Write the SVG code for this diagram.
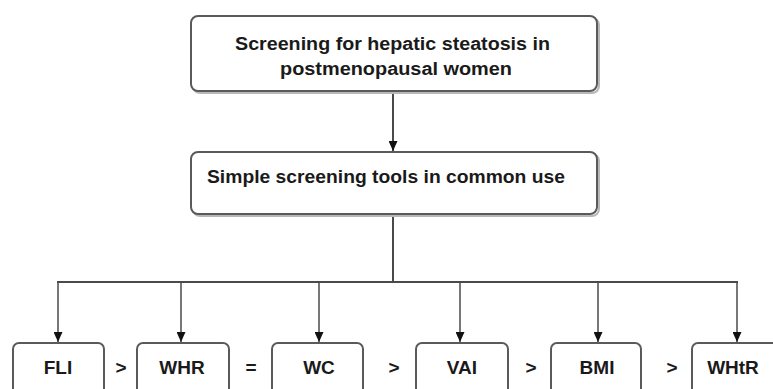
<svg xmlns="http://www.w3.org/2000/svg" width="773" height="389" viewBox="0 0 773 389">
<defs>
<marker id="ah" markerWidth="10" markerHeight="9" refX="10" refY="4.5" orient="auto" markerUnits="userSpaceOnUse" viewBox="0 0 10 9">
<path d="M0,0 L10,4.5 L0,9 Z" fill="#111"/>
</marker>
<style>
.box{fill:#fff;stroke:#5a5a5a;stroke-width:2}
.sh{fill:none;stroke:#b8b8b8;stroke-width:2}
.t{font-family:"Liberation Sans",Arial,sans-serif;font-weight:bold;fill:#1a1a1a;font-size:18px}
.s{font-family:"Liberation Sans",Arial,sans-serif;font-weight:bold;fill:#1a1a1a;font-size:19px;text-anchor:middle}
.c{fill:none;stroke:#4a4a4a;stroke-width:2}
.d{fill:none;stroke:#4a4a4a;stroke-width:1.5}
</style>
</defs>
<rect width="773" height="389" fill="#fff"/>

<g id="connectors">
<line class="c" x1="393" y1="92" x2="393" y2="151" marker-end="url(#ah)"/>
<line class="c" x1="393" y1="215" x2="393" y2="282"/>
<line class="c" x1="57" y1="282" x2="738" y2="282"/>
<line class="d" x1="58" y1="282" x2="58" y2="342" marker-end="url(#ah)"/>
<line class="d" x1="181" y1="282" x2="181" y2="342" marker-end="url(#ah)"/>
<line class="d" x1="319" y1="282" x2="319" y2="342" marker-end="url(#ah)"/>
<line class="d" x1="460" y1="282" x2="460" y2="342" marker-end="url(#ah)"/>
<line class="d" x1="598" y1="282" x2="598" y2="342" marker-end="url(#ah)"/>
<line class="d" x1="737" y1="282" x2="737" y2="342" marker-end="url(#ah)"/>
</g>

<g id="n-top">
<rect class="sh" x="193" y="18" width="406" height="75" rx="7"/>
<rect class="box" x="191" y="16" width="406" height="75" rx="7"/>
<text class="t" x="235" y="50" textLength="315" lengthAdjust="spacingAndGlyphs">Screening for hepatic steatosis in</text>
<text class="t" x="280" y="75" textLength="232" lengthAdjust="spacingAndGlyphs">postmenopausal women</text>
</g>

<g id="n-tools">
<rect class="sh" x="193" y="154" width="406" height="62" rx="7"/>
<rect class="box" x="191" y="152" width="406" height="62" rx="7"/>
<text class="t" x="207" y="183" textLength="358" lengthAdjust="spacingAndGlyphs">Simple screening tools in common use</text>
</g>

<g id="n-fli">
<rect class="box" x="13" y="343" width="91" height="60" rx="6"/>
<text class="s" x="58" y="374">FLI</text>
</g>
<text class="s" x="121" y="374">&gt;</text>
<g id="n-whr">
<rect class="box" x="137" y="343" width="92" height="60" rx="6"/>
<text class="s" x="182" y="374">WHR</text>
</g>
<text class="s" x="251" y="374">=</text>
<g id="n-wc">
<rect class="box" x="272" y="343" width="91" height="60" rx="6"/>
<text class="s" x="319" y="374">WC</text>
</g>
<text class="s" x="394" y="374">&gt;</text>
<g id="n-vai">
<rect class="box" x="416" y="343" width="92" height="60" rx="6"/>
<text class="s" x="462" y="374">VAI</text>
</g>
<text class="s" x="531" y="374">&gt;</text>
<g id="n-bmi">
<rect class="box" x="551" y="343" width="90" height="60" rx="6"/>
<text class="s" x="597" y="374">BMI</text>
</g>
<text class="s" x="672" y="374">&gt;</text>
<g id="n-whtr">
<rect class="box" x="692" y="343" width="100" height="60" rx="6"/>
<text class="s" x="733" y="374">WHtR</text>
</g>
</svg>
